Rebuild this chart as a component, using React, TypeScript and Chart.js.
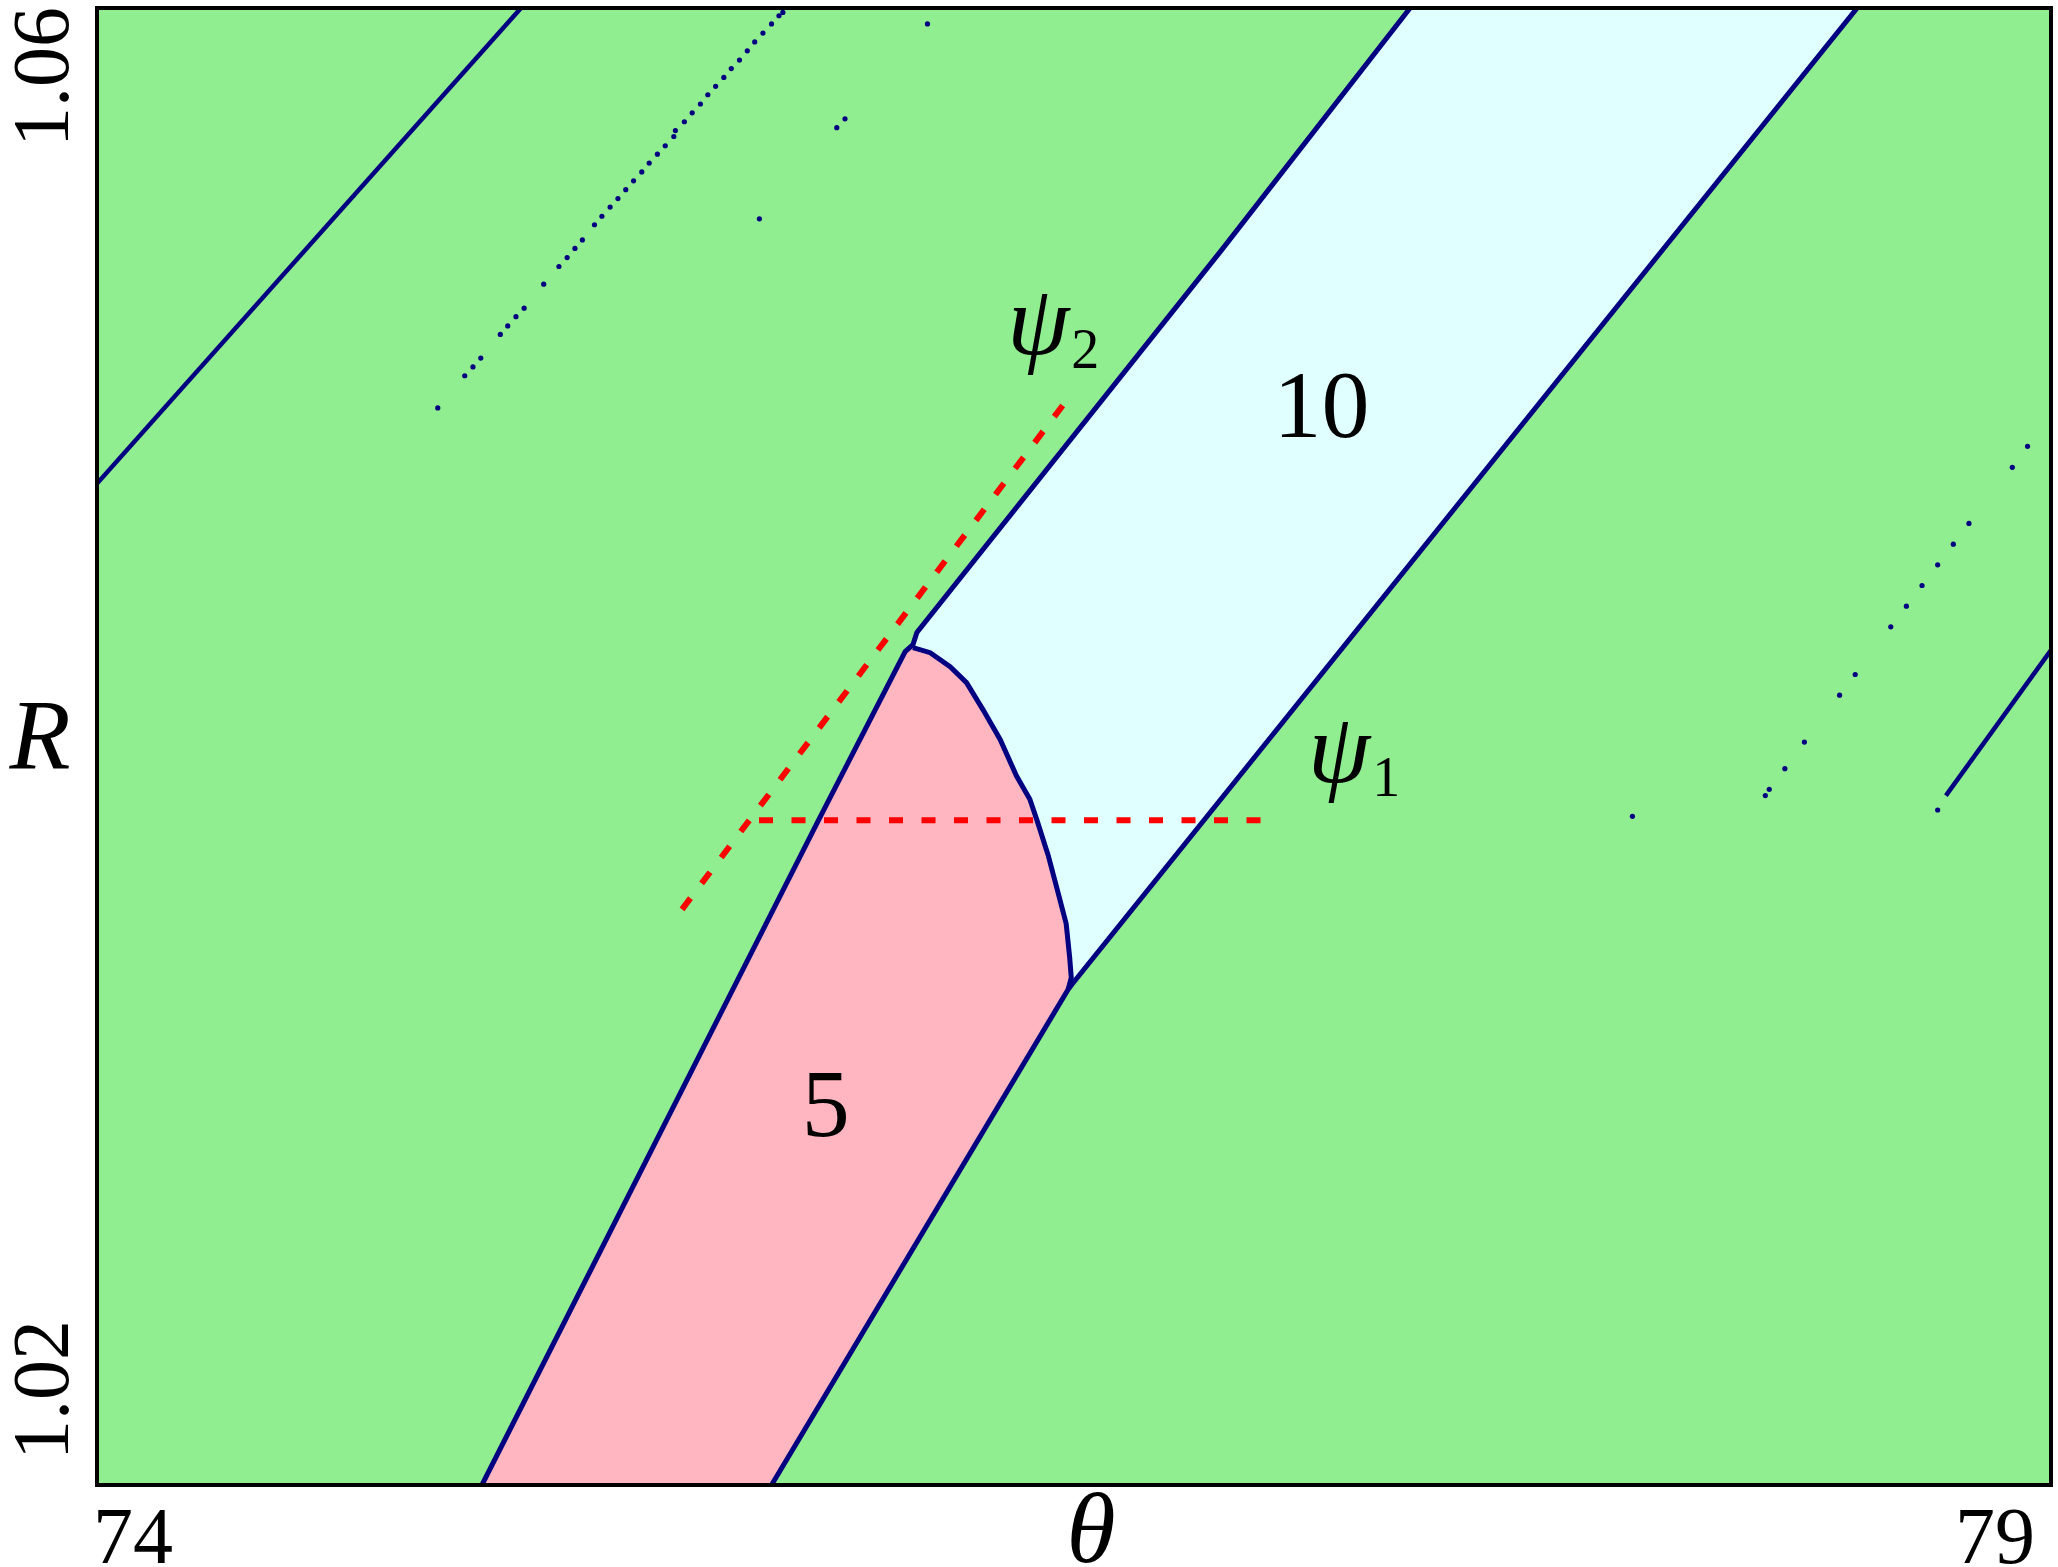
import React, { useEffect, useRef } from "react";
import { Chart, registerables } from "chart.js";

Chart.register(...registerables);

// Axis ranges and tick labels
const X_RANGE = [74, 79];
const Y_RANGE = [1.02, 1.06];
const xTickLabels = ["74", "79"];
const yTickLabels = ["1.02", "1.06"];
const xTitle = "θ";
const yTitle = "R";

// Region "5" (pink) polygon
const region5 = [
  [74.985, 1.02], [75.846, 1.038], [76.068, 1.04257], [76.088, 1.04276],
  [76.132, 1.04254], [76.183, 1.04216], [76.225, 1.04173], [76.267, 1.041],
  [76.311, 1.04019], [76.353, 1.0392], [76.387, 1.03857], [76.406, 1.03798],
  [76.434, 1.03705], [76.457, 1.03613], [76.48, 1.0352], [76.489, 1.03428],
  [76.493, 1.03374], [76.485, 1.03342], [75.726, 1.02],
];

// Region "10" (light cyan) polygon
const region10 = [
  [76.088, 1.04276], [76.098, 1.04309],
  [76.878, 1.05345], [77.36, 1.06], [78.504, 1.06], [76.495, 1.03356],
  [76.485, 1.03342], [76.493, 1.03374], [76.489, 1.03428], [76.48, 1.0352],
  [76.457, 1.03613], [76.434, 1.03705], [76.406, 1.03798], [76.387, 1.03857],
  [76.353, 1.0392], [76.311, 1.04019], [76.267, 1.041], [76.225, 1.04173],
  [76.183, 1.04216], [76.132, 1.04254], [76.088, 1.04268],
];

// Boundary curves
const leftBoundary = [
  [74.985, 1.02], [75.846, 1.038], [76.068, 1.04257], [76.088, 1.04276],
  [76.098, 1.04309], [76.878, 1.05345], [77.36, 1.06],
];
const rightBoundary = [
  [75.726, 1.02], [76.485, 1.03342], [76.495, 1.03356], [78.504, 1.06],
];
const innerBoundary = [
  [76.088, 1.04268], [76.132, 1.04254], [76.183, 1.04216], [76.225, 1.04173],
  [76.267, 1.041], [76.311, 1.04019], [76.353, 1.0392], [76.387, 1.03857],
  [76.406, 1.03798], [76.434, 1.03705], [76.457, 1.03613], [76.48, 1.0352],
  [76.489, 1.03428], [76.493, 1.03374], [76.485, 1.03342],
];
const upperLeftLine = [
  [74.0, 1.04712], [75.085, 1.06],
];
const farRightLine = [
  [78.731, 1.03867], [79.0, 1.04261],
];

// Isolated / sparse boundary points
const sparseDots = [
  [75.755, 1.05988], [75.745, 1.05979], [75.726, 1.05957], [75.704, 1.05932],
  [75.683, 1.05908], [75.664, 1.05884], [75.644, 1.05859], [75.623, 1.05836],
  [75.604, 1.05812], [75.583, 1.05788], [75.563, 1.05765], [75.544, 1.0574],
  [75.523, 1.05716], [75.503, 1.05692], [75.48, 1.05668], [75.476, 1.05652],
  [75.454, 1.05627], [75.434, 1.05604], [75.413, 1.0558], [75.394, 1.05556],
  [75.373, 1.05532], [75.353, 1.05508], [75.333, 1.05484], [75.313, 1.05461],
  [75.292, 1.05436], [75.273, 1.05413], [75.242, 1.05372], [75.223, 1.05349],
  [75.203, 1.05324], [75.182, 1.053], [75.143, 1.05252], [75.093, 1.05187],
  [75.072, 1.05164], [75.051, 1.05139], [75.032, 1.05116], [74.982, 1.05052],
  [74.962, 1.05028], [74.941, 1.05004], [74.872, 1.04917],
  [76.125, 1.05957], [75.914, 1.057], [75.893, 1.05676], [75.695, 1.05429],
  [78.94, 1.04813], [78.901, 1.04756], [78.79, 1.04604], [78.75, 1.04548],
  [78.71, 1.04492], [78.67, 1.04436], [78.63, 1.0438], [78.59, 1.04324],
  [78.499, 1.04195], [78.459, 1.04139], [78.369, 1.04012], [78.319, 1.0394],
  [78.279, 1.03884], [78.269, 1.03867], [77.929, 1.03811], [78.71, 1.03828],
];

// Red dashed lines psi_1, psi_2
const psi1Line = [
  [75.694, 1.038], [76.994, 1.038],
];
const psi2Line = [
  [75.497, 1.03559], [76.48, 1.04936],
];

// Text annotations (data coords)
const regionLabels = [
  { text: "10", x: 77.133, y: 1.04839 },
  { text: "5", x: 75.865, y: 1.02945 },
];
const psiLabels = [
  { sub: "2", x: 76.329, y: 1.05064 },
  { sub: "1", x: 77.099, y: 1.03903 },
];

const GREEN = "#90EE90";
const PINK = "#FFB6C1";
const CYAN = "#E0FFFF";
const NAVY = "#000080";
const RED = "#FF0000";
const SERIF = '"Liberation Serif", "DejaVu Serif", serif';

const toXY = (arr: number[][]) => arr.map(([x, y]) => ({ x, y }));

const decorPlugin = {
  id: "decor",
  beforeDraw(chart: any) {
    const { ctx, chartArea: a } = chart;
    ctx.save();
    ctx.fillStyle = "#ffffff";
    ctx.fillRect(0, 0, chart.width, chart.height);
    ctx.fillStyle = GREEN;
    ctx.fillRect(a.left, a.top, a.right - a.left, a.bottom - a.top);
    ctx.restore();
  },
  afterDraw(chart: any) {
    const { ctx, chartArea: a, scales } = chart;
    const xs = scales.x;
    const ys = scales.y;
    ctx.save();
    // frame
    ctx.strokeStyle = "#000";
    ctx.lineWidth = 4;
    ctx.strokeRect(a.left, a.top, a.right - a.left, a.bottom - a.top);

    ctx.fillStyle = "#000";
    // x tick labels
    ctx.font = `80px ${SERIF}`;
    ctx.textBaseline = "alphabetic";
    ctx.textAlign = "left";
    ctx.fillText(xTickLabels[0], xs.getPixelForValue(X_RANGE[0]) - 4, a.bottom + 78);
    ctx.textAlign = "right";
    ctx.fillText(xTickLabels[1], xs.getPixelForValue(X_RANGE[1]) - 16, a.bottom + 78);

    // y tick labels (rotated)
    ctx.save();
    ctx.translate(68, ys.getPixelForValue(Y_RANGE[1]) - 1);
    ctx.rotate(-Math.PI / 2);
    ctx.textAlign = "right";
    ctx.fillText(yTickLabels[1], 0, 0);
    ctx.restore();
    ctx.save();
    ctx.translate(68, ys.getPixelForValue(Y_RANGE[0]) - 25);
    ctx.rotate(-Math.PI / 2);
    ctx.textAlign = "left";
    ctx.fillText(yTickLabels[0], 0, 0);
    ctx.restore();

    // axis titles
    ctx.font = `italic 100px ${SERIF}`;
    ctx.textAlign = "center";
    ctx.fillText(yTitle, 40, 768);
    ctx.fillText(xTitle, 1091, 1562);

    // region labels
    ctx.font = `96px ${SERIF}`;
    ctx.textAlign = "center";
    for (const l of regionLabels) {
      ctx.fillText(l.text, xs.getPixelForValue(l.x), ys.getPixelForValue(l.y));
    }

    // psi labels
    for (const l of psiLabels) {
      const px = xs.getPixelForValue(l.x);
      const py = ys.getPixelForValue(l.y);
      ctx.font = `italic 100px ${SERIF}`;
      ctx.textAlign = "left";
      ctx.fillText("ψ", px, py);
      const w = ctx.measureText("ψ").width;
      ctx.font = `56px ${SERIF}`;
      ctx.fillText(l.sub, px + w + 2, py + 14);
    }
    ctx.restore();
  },
};

const lineDs = (data: number[][], color: string, width: number, order: number, dash?: number[]) => ({
  data: toXY(data),
  showLine: true,
  borderColor: color,
  borderWidth: width,
  borderDash: dash || [],
  borderCapStyle: "butt",
  pointRadius: 0,
  fill: false,
  tension: 0,
  order,
  clip: 0,
});

const polyDs = (data: number[][], color: string, order: number) => ({
  data: toXY(data),
  showLine: true,
  borderColor: "rgba(0,0,0,0)",
  borderWidth: 0,
  backgroundColor: color,
  pointRadius: 0,
  fill: "shape",
  tension: 0,
  order,
  clip: 0,
});

export default function App() {
  const ref = useRef<HTMLCanvasElement | null>(null);
  useEffect(() => {
    if (!ref.current) return;
    const chart = new Chart(ref.current, {
      type: "scatter",
      data: {
        datasets: [
          lineDs(psi2Line, RED, 6, 0, [14, 18.5]) as any,
          lineDs(psi1Line, RED, 6, 0, [14, 18.5]) as any,
          lineDs(leftBoundary, NAVY, 5, 1) as any,
          lineDs(rightBoundary, NAVY, 5, 1) as any,
          lineDs(innerBoundary, NAVY, 5, 1) as any,
          lineDs(upperLeftLine, NAVY, 4.5, 1) as any,
          lineDs(farRightLine, NAVY, 4.5, 1) as any,
          {
            data: toXY(sparseDots),
            showLine: false,
            pointRadius: 2.6,
            pointBackgroundColor: NAVY,
            pointBorderWidth: 0,
            order: 2,
            clip: 0,
          } as any,
          polyDs(region10, CYAN, 5) as any,
          polyDs(region5, PINK, 5) as any,
        ],
      },
      options: {
        animation: false,
        responsive: false,
        devicePixelRatio: 1,
        layout: { padding: { left: 97, top: 8, right: 7, bottom: 82 } },
        scales: {
          x: { type: "linear", min: X_RANGE[0], max: X_RANGE[1], display: false },
          y: { type: "linear", min: Y_RANGE[0], max: Y_RANGE[1], display: false },
        },
        plugins: {
          legend: { display: false },
          tooltip: { enabled: false },
        },
        events: [],
      },
      plugins: [decorPlugin],
    });
    return () => chart.destroy();
  }, []);
  return (
    <div style={{ position: "absolute", left: 0, top: 0, width: 2058, height: 1567 }}>
      <canvas ref={ref} width={2058} height={1567} style={{ width: 2058, height: 1567, display: "block" }} />
    </div>
  );
}
